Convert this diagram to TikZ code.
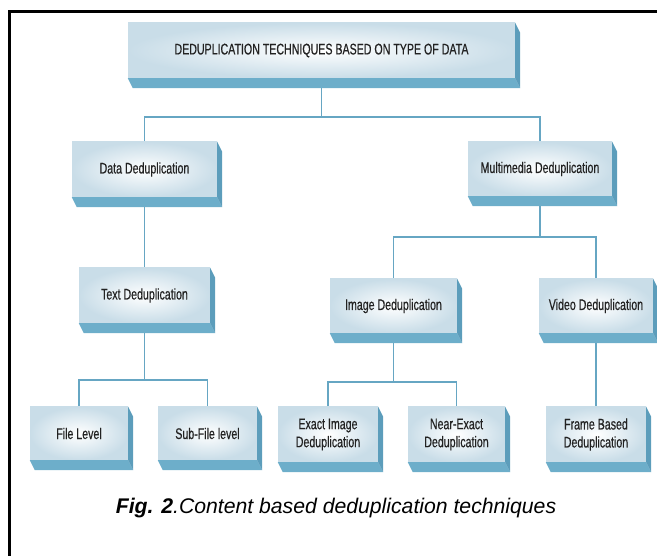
\documentclass[tikz,border=0pt]{standalone}
\usepackage{fontspec}
\setmainfont{Liberation Sans}
\newfontfamily\boxfont[FakeStretch=0.69,FakeBold=0.5]{Liberation Sans}
\usetikzlibrary{calc,backgrounds}
\definecolor{sidebot}{HTML}{6DAECA}
\definecolor{sideright}{HTML}{5C9DBB}
\definecolor{faceedge}{HTML}{C9DDE8}
\definecolor{connc}{HTML}{66A6C3}
\definecolor{txtc}{HTML}{222222}
\tikzset{
  box/.style={shade, inner color=white, outer color=faceedge, inner sep=0pt,
    align=center, text=txtc, font=\boxfont\fontsize{15.4}{18}\selectfont},
  conn/.style={draw=connc, line width=1.4pt},
  frameline/.style={draw=black, line width=2.2pt},
}
\begin{document}
\begin{tikzpicture}[x=1pt,y=-1pt]
\useasboundingbox (0,0) rectangle (657,556);
% frame
\coordinate (fa) at (9.5,556);
\coordinate (fb) at (9.5,11.5);
\coordinate (fc) at (657,11.5);
\draw[frameline] (fa) -- (fb) -- (fc);
% boxes
\node[box, minimum width=387pt, minimum height=55pt] (top) at (321.5,50.5) {DEDUPLICATION TECHNIQUES BASED ON TYPE OF DATA};
\node[box, minimum width=145pt, minimum height=55pt] (data) at (144.5,169.5) {Data Deduplication};
\node[box, minimum width=144pt, minimum height=54pt] (multi) at (540,169) {Multimedia Deduplication};
\node[box, minimum width=131pt, minimum height=55pt] (text) at (144.5,295.5) {Text Deduplication};
\node[box, minimum width=127pt, minimum height=54pt] (image) at (393.5,306) {Image Deduplication};
\node[box, minimum width=114pt, minimum height=54pt] (video) at (596,306) {Video Deduplication};
\node[box, minimum width=98pt, minimum height=53pt] (file) at (79,433.5) {File Level};
\node[box, minimum width=99pt, minimum height=53pt] (subfile) at (207.5,433.5) {Sub-File level};
\node[box, minimum width=100pt, minimum height=55pt] (exact) at (328,434.5) {Exact Image\\Deduplication};
\node[box, minimum width=97pt, minimum height=55pt] (near) at (456.5,434.5) {Near-Exact\\Deduplication};
\node[box, minimum width=100pt, minimum height=55pt] (frame) at (596,434.5) {Frame Based\\Deduplication};
% extruded sides
\foreach \n in {top,data,multi,text,image,video,file,subfile,exact,near,frame}{
  \fill[sidebot] (\n.south west) -- (\n.south east) -- ($(\n.south east)+(5,10)$) -- ($(\n.south west)+(5,10)$) -- cycle;
  \fill[sideright] (\n.north east) -- ($(\n.north east)+(5,10)$) -- ($(\n.south east)+(5,10)$) -- (\n.south east) -- cycle;
}
% connectors
\coordinate (j1) at (321.5,117);
\coordinate (j2) at (540,237);
\coordinate (j3) at (144.5,380);
\coordinate (j4) at (393.5,382);
\begin{scope}[on background layer]
\draw[conn] (top.south) -- (j1);
\draw[conn] (j1) -| (data.north);
\draw[conn] (j1) -| (multi.north);
\draw[conn] (data.south) -- (text.north);
\draw[conn] (multi.south) -- (j2);
\draw[conn] (j2) -| (image.north);
\draw[conn] (j2) -| (video.north);
\draw[conn] (text.south) -- (j3);
\draw[conn] (j3) -| (file.north);
\draw[conn] (j3) -| (subfile.north);
\draw[conn] (image.south) -- (j4);
\draw[conn] (j4) -| (exact.north);
\draw[conn] (j4) -| (near.north);
\draw[conn] (video.south) -- (frame.north);
\end{scope}
% caption
\node[anchor=base, font=\fontsize{21.2}{25}\selectfont, inner sep=0pt] (cap) at (336,513) {\textbf{\textit{Fig. 2}}\textit{.Content based deduplication techniques}};
\end{tikzpicture}
\end{document}
